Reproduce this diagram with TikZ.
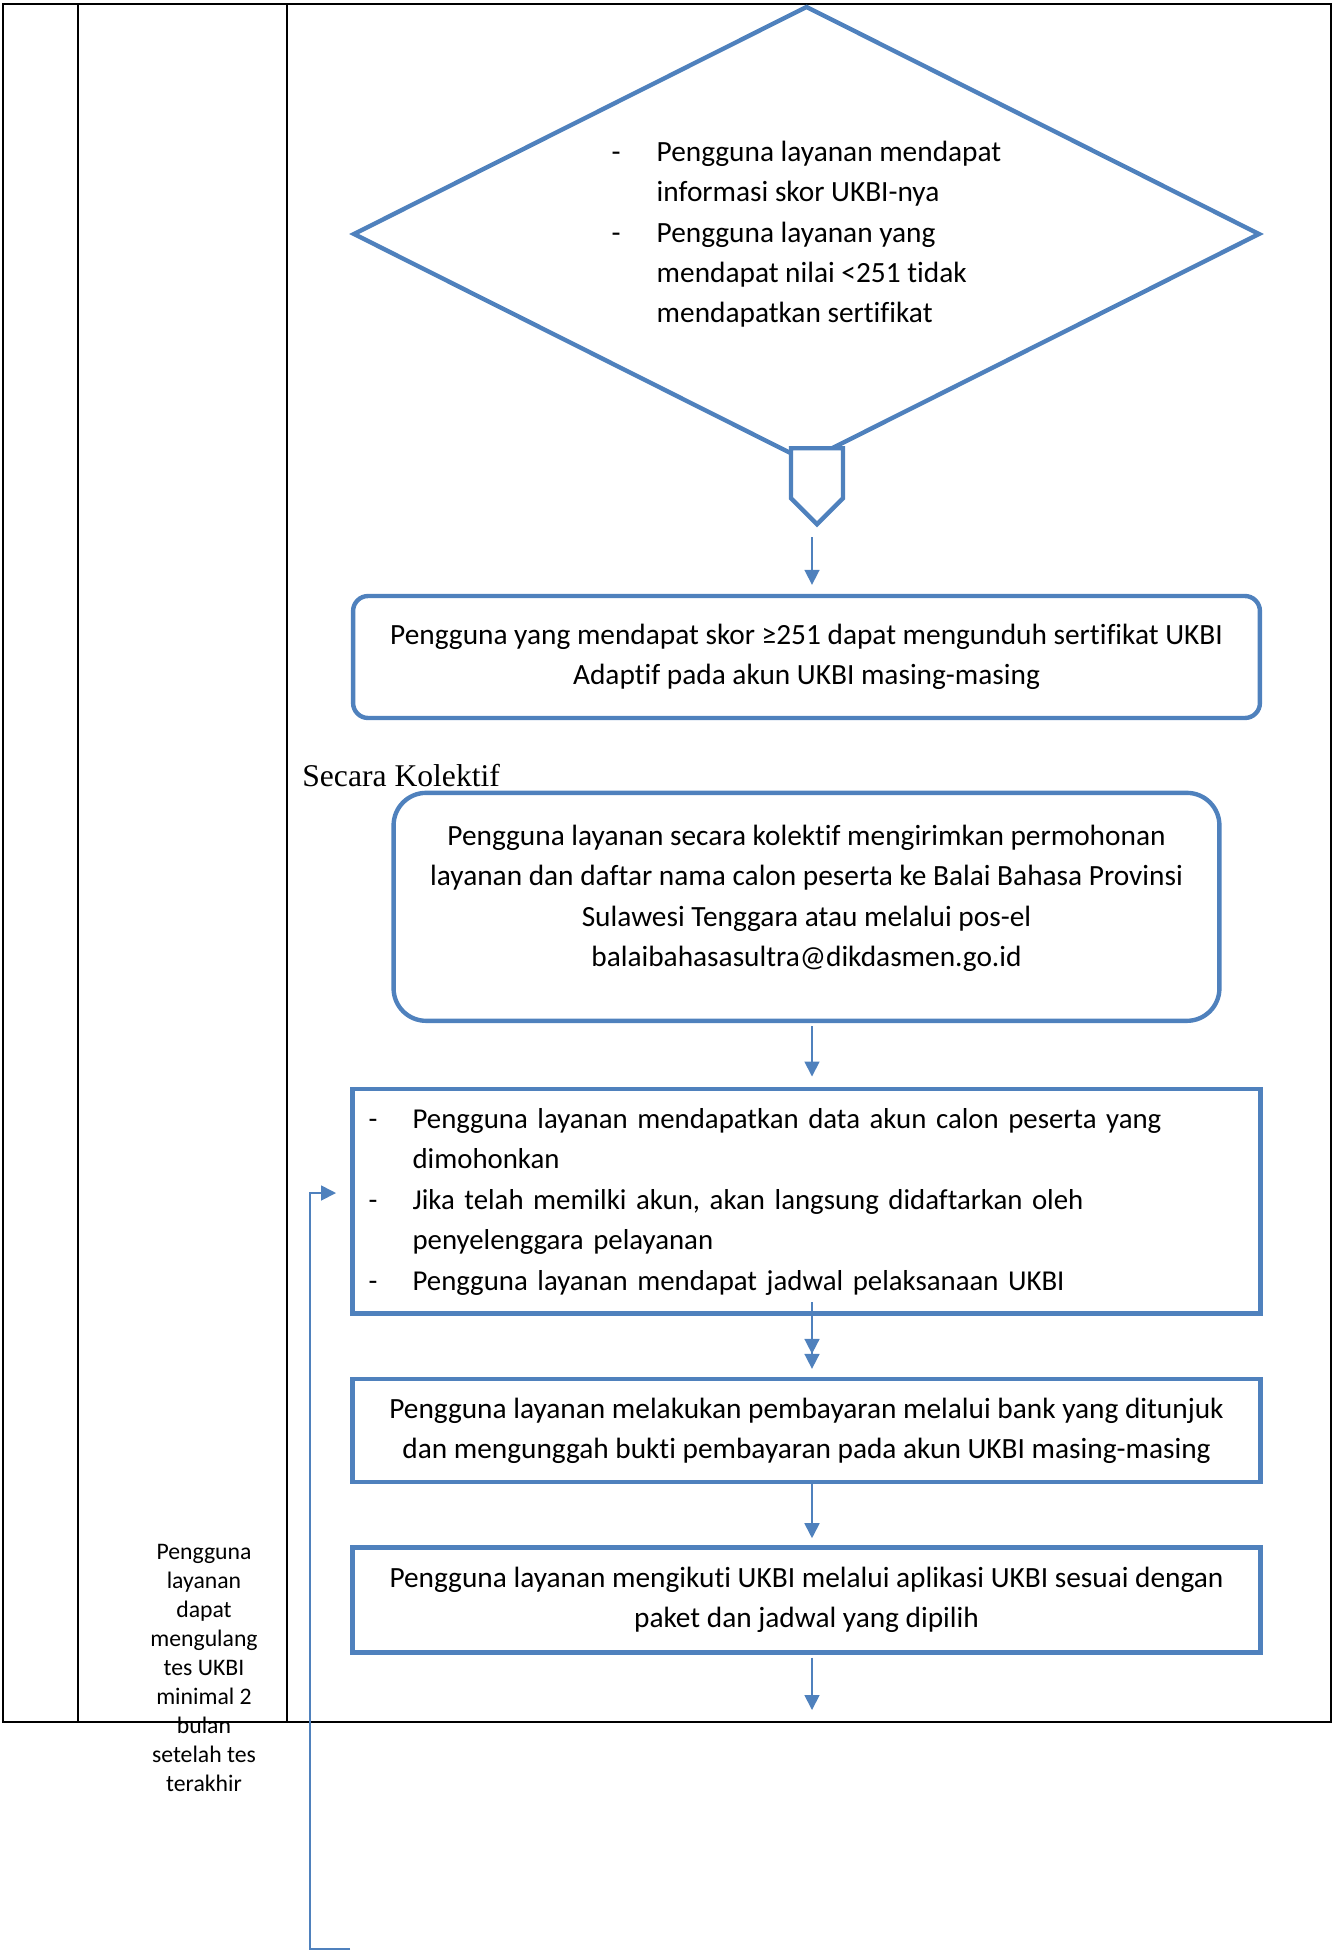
\documentclass[tikz,border=0pt]{standalone}
\usepackage{fontspec}
\setmainfont{Carlito}[Ligatures=NoCommon]
\newfontfamily\kolfont{Liberation Serif}
\usetikzlibrary{positioning,arrows.meta,shapes.geometric,shapes.symbols}
\definecolor{flowblue}{RGB}{79,129,189}
\newcommand\bodyfont{\fontsize{16.7}{23}\selectfont}
\newcommand\sidefont{\fontsize{13.5}{16.5}\selectfont}
\tikzset{
  box/.style   = {rectangle, draw=flowblue, line width=2.5pt,
                  align = center, inner sep=0pt,
                  minimum width = 18.14cm, font = \bodyfont},
  rbox/.style  = {box, rounded corners=0.3cm},
  dmd/.style   = {diamond, aspect=2, draw=flowblue, line width=2.5pt, inner sep=0pt,
                  minimum width = 18.14cm, minimum height = 9.12cm,
                  font = \bodyfont},
  offpg/.style = {signal, signal to=south, signal pointer angle=90,
                  draw=flowblue, fill=white, line width=2.5pt, inner sep=0pt,
                  minimum width = 1.04cm, minimum height = 1.0cm},
  arr/.style   = {-{Triangle[length=0.3cm,width=0.3cm]}, flowblue, line width=1pt},
  tbl/.style   = {draw=black, line width=1.1pt},
  side/.style  = {align = center, inner sep=0pt, font = \sidefont}
}

\begin{document}
\begin{tikzpicture}[x=0.02cm,y=-0.02cm]
        \useasboundingbox (0,0) rectangle (1332,1951);
        % table
        \draw[tbl] (3,4) rectangle (1331,1722);
        \draw[tbl] (78,4)--(78,1722);
        \draw[tbl] (287,4)--(287,1722);
        \node[side] (ulang) at (204,1668){Pengguna\\layanan\\dapat\\mengulang\\tes UKBI\\minimal 2\\bulan\\setelah tes\\terakhir};
        % flow
        \coordinate (ax) at (812,0);
        \node[dmd] (skor) at (806.5,234){\begin{tabular}{@{}p{0.9cm}@{}l@{}}
          - & Pengguna layanan mendapat\\
            & informasi skor UKBI-nya\\
          - & Pengguna layanan yang\\
            & mendapat nilai <251 tidak\\
            & mendapatkan sertifikat
        \end{tabular}};
        \node[offpg,anchor=north] (opc) at (817,446){};
        \node[rbox,minimum height=2.44cm] (unduh) at (806.5,657){Pengguna yang mendapat skor ≥251 dapat mengunduh sertifikat UKBI\\Adaptif pada akun UKBI masing-masing};
        \node[anchor=base west,inner sep=0pt,font=\kolfont\fontsize{18}{22}\selectfont] (kol) at (302,786){Secara Kolektif};
        \node[rbox,rounded corners=0.65cm,minimum width=16.52cm,minimum height=4.56cm,below=1.41cm of unduh] (mohon){Pengguna layanan secara kolektif mengirimkan permohonan\\layanan dan daftar nama calon peserta ke Balai Bahasa Provinsi\\Sulawesi Tenggara atau melalui pos-el\\balaibahasasultra@dikdasmen.go.id\rule[-0.44cm]{0pt}{0.44cm}};
        \node[box,minimum width=18.16cm,minimum height=4.5cm,text width=17.52cm,align=left,inner xsep=0.32cm,font=\fontsize{16.4}{23}\selectfont,below=1.27cm of mohon] (akun){\begin{tabular}{@{}p{0.88cm}@{}l@{}}
          - & Pengguna layanan mendapatkan data akun calon peserta yang\\
            & dimohonkan\\
          - & Jika telah memilki akun, akan langsung didaftarkan oleh\\
            & penyelenggara pelayanan\\
          - & Pengguna layanan mendapat jadwal pelaksanaan UKBI
        \end{tabular}};
        \node[box,minimum width=18.16cm,minimum height=2.06cm,below=1.22cm of akun] (bayar){Pengguna layanan melakukan pembayaran melalui bank yang ditunjuk\\dan mengunggah bukti pembayaran pada akun UKBI masing-masing};
        \node[box,minimum width=18.16cm,minimum height=2.1cm,below=1.22cm of bayar] (ikut){Pengguna layanan mengikuti UKBI melalui aplikasi UKBI sesuai dengan\\paket dan jadwal yang dipilih};
        \coordinate (akunin) at (812,1302);
        \coordinate (flowend) at (812,1710);
        \draw[arr,shorten <=0.2cm,shorten >=0.18cm](opc.south -| ax)--(unduh.north -| ax);
        \draw[arr,shorten <=0.06cm,shorten >=0.2cm](mohon.south -| ax)--(akun.north -| ax);
        \draw[arr,shorten >=0.46cm](akunin)--(bayar.north -| ax);
        \draw[arr,shorten >=0.16cm](akun.south -| ax)--(bayar.north -| ax);
        \draw[arr,shorten >=0.14cm](bayar.south -| ax)--(ikut.north -| ax);
        \draw[arr,shorten <=0.06cm](ikut.south -| ax)--(flowend);
        % loop back
        \coordinate (lpst) at (350,1949);
        \coordinate (lpturn) at (310,1949);
        \coordinate (lptip) at (336,1193);
        \draw[arr](lpst)--(lpturn)|-(lptip);
      \end{tikzpicture}
\end{document}
